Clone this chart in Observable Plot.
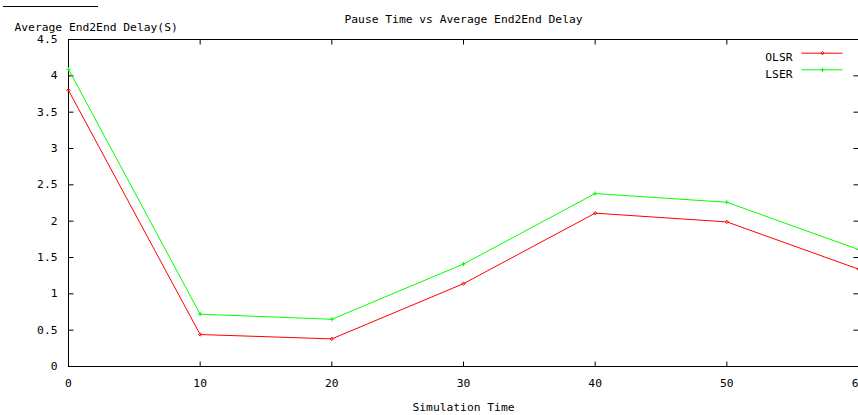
<!DOCTYPE html>
<html><head><meta charset="utf-8">
<script src="https://cdn.jsdelivr.net/npm/d3@7"></script>
<script src="https://cdn.jsdelivr.net/npm/@observablehq/plot@0.6"></script>
<style>
body{margin:0;background:#fff;overflow:hidden}
#wrap{position:relative;width:858px;height:415px;overflow:hidden}
#deco{position:absolute;left:3px;top:6px;width:95px;border-top:1px solid #000}
</style>
</head><body><div id="wrap"><div id="deco"></div></div>
<script>
const pauseTimes = [0, 10, 20, 30, 40, 50, 60];
const olsrDelay = [3.80, 0.44, 0.38, 1.14, 2.11, 1.99, 1.34];
const lserDelay = [4.09, 0.72, 0.65, 1.41, 2.38, 2.26, 1.61];
const seriesNames = ["OLSR", "LSER"];
const seriesColors = ["#ff0000", "#00ff00"];
const seriesSymbols = ["diamond2", "plus"];
const xTicks = [0, 10, 20, 30, 40, 50, 60];
const yTicks = [0, 0.5, 1, 1.5, 2, 2.5, 3, 3.5, 4, 4.5];
const titleText = "Pause Time vs Average End2End Delay";
const yLabel = "Average End2End Delay(S)";
const xLabel = "Simulation Time";

const data = pauseTimes.flatMap((t, i) => [
  {series: seriesNames[0], t, v: olsrDelay[i]},
  {series: seriesNames[1], t, v: lserDelay[i]}
]);

const seg = (x1, y1, x2, y2) => ({draw(ctx) { ctx.moveTo(x1, y1); ctx.lineTo(x2, y2); }});
const tickStyle = {stroke: "black", fill: "none", strokeWidth: 1};

const legendMarks = seriesNames.flatMap((name, i) => {
  const dy = 13.7 + i * 16.6;
  return [
    Plot.text([name], {frameAnchor: "top-right", dx: -66, dy, textAnchor: "end", fill: "black"}),
    Plot.dot([name], {frameAnchor: "top-right", dx: -36, dy, symbol: seg(-21, 0, 20, 0), stroke: seriesColors[i], fill: "none", strokeWidth: 1}),
    Plot.dot([name], {frameAnchor: "top-right", dx: -36, dy, symbol: seriesSymbols[i], r: 1.5, stroke: seriesColors[i], fill: "none", strokeWidth: 1})
  ];
});

const chart = Plot.plot({
  width: 858, height: 415,
  marginLeft: 68, marginRight: 0, marginTop: 39, marginBottom: 49,
  style: {fontFamily: "DejaVu Sans Mono", fontSize: "11.3px", color: "#000", background: "#fff"},
  x: {domain: [0, 60], axis: null},
  y: {domain: [0, 4.5], axis: null},
  color: {domain: seriesNames, range: seriesColors},
  marks: [
    Plot.frame({stroke: "black", strokeWidth: 1}),
    Plot.axisX(xTicks, {anchor: "bottom", tickSize: 0, tickPadding: 12, tickFormat: d => String(d), label: null, fill: "black"}),
    Plot.axisY(yTicks, {anchor: "left", tickSize: 0, tickPadding: 11, tickFormat: d => String(d), label: null, fill: "black"}),
    Plot.dot(yTicks, {x: () => 0, y: d => d, symbol: seg(0, 0, 5, 0), ...tickStyle}),
    Plot.dot(yTicks, {x: () => 60, y: d => d, symbol: seg(0, 0, -5, 0), ...tickStyle}),
    Plot.dot(xTicks, {x: d => d, y: () => 0, symbol: seg(0, 0, 0, -5), ...tickStyle}),
    Plot.dot(xTicks, {x: d => d, y: () => 4.5, symbol: seg(0, 0, 0, 5), ...tickStyle}),
    Plot.line(data, {x: "t", y: "v", z: "series", stroke: "series", strokeWidth: 1}),
    Plot.dot(data.filter(d => d.series === seriesNames[0]), {x: "t", y: "v", symbol: seriesSymbols[0], r: 1.5, stroke: "series", fill: "none", strokeWidth: 1}),
    Plot.dot(data.filter(d => d.series === seriesNames[1]), {x: "t", y: "v", symbol: seriesSymbols[1], r: 1.5, stroke: "series", fill: "none", strokeWidth: 1}),
    Plot.text([titleText], {frameAnchor: "top", dy: -25, fill: "black"}),
    Plot.text([yLabel], {frameAnchor: "top-left", dx: -54, dy: -17, textAnchor: "start", fill: "black"}),
    Plot.text([xLabel], {frameAnchor: "bottom", dy: 44, fill: "black"}),
    ...legendMarks
  ]
});
document.getElementById("wrap").appendChild(chart);
</script>
</body></html>
